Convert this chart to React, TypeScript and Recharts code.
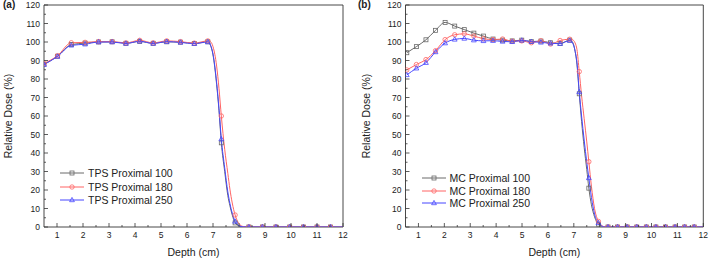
import { LineChart, Line, XAxis, YAxis, ReferenceArea } from "recharts";

// depth grid (cm) for the TPS panel; markers only sit on some of these
const tpsDepth = [
  0.5, 1.02, 1.55, 2.08, 2.6, 3.12, 3.65, 4.18, 4.7, 5.22, 5.75, 6.28, 6.8,
  6.9, 7.0, 7.14, 7.23, 7.32, 7.45, 7.57, 7.65, 7.74, 7.85, 8.0, 8.15, 8.38,
  8.9, 9.42, 9.95, 10.48, 11.0, 11.52, 12,
];
const tpsMarkers = [
  0.5, 1.02, 1.55, 2.08, 2.6, 3.12, 3.65, 4.18, 4.7, 5.22, 5.75, 6.28, 6.8,
  7.32, 7.85, 8.38, 8.9, 9.42, 9.95, 10.48, 11.0, 11.52,
];
const tps100 = [
  88, 92.3, 98.6, 99.4, 100, 100.1, 99.3, 100.3, 99.3, 100.1, 99.9, 99.2, 100.1,
  98.3, 93, 77, 63, 45.5, 30, 17, 11.5, 6.5, 2.2, 0.6, 0.1, 0,
  0, 0, 0, 0, 0, 0, 0,
];
const tps180 = [
  88.4, 92.6, 99.6, 99.8, 100.2, 100.2, 99.5, 100.9, 99.5, 100.6, 100.2, 99.4, 100.6,
  100.2, 97.5, 87, 75, 60, 42, 29, 20.5, 13, 6.5, 1.8, 0.3, 0,
  0, 0, 0, 0, 0, 0, 0,
];
const tps250 = [
  87.8, 92.2, 98.2, 98.8, 100, 100, 99.2, 100.4, 99.2, 100.2, 99.8, 99.1, 100,
  98.5, 93.5, 78, 64, 47.5, 32, 19, 12.8, 7.5, 3, 0.8, 0.1, 0,
  0, 0, 0, 0, 0, 0, 0,
];

// depth grid (cm) for the MC panel
const mcDepth = [
  0.55, 0.92, 1.29, 1.66, 2.03, 2.4, 2.77, 3.14, 3.51, 3.88, 4.25, 4.62, 4.99,
  5.36, 5.73, 6.1, 6.47, 6.84, 6.95, 7.05, 7.12, 7.21, 7.3, 7.4, 7.5, 7.58,
  7.68, 7.8, 7.95, 8.1, 8.2, 8.32, 8.69, 9.06, 9.43, 9.8, 10.17, 10.54, 10.91,
  11.28, 11.65, 12,
];
const mcMarkers = [
  0.55, 0.92, 1.29, 1.66, 2.03, 2.4, 2.77, 3.14, 3.51, 3.88, 4.25, 4.62, 4.99,
  5.36, 5.73, 6.1, 6.47, 6.84, 7.21, 7.58, 7.95, 8.32, 8.69, 9.06, 9.43, 9.8,
  10.17, 10.54, 10.91, 11.28, 11.65,
];
const mc100 = [
  94.2, 97.5, 101.2, 106.3, 110.6, 108.6, 106.7, 104.8, 103.2, 101.6, 101, 100.6, 101,
  100.2, 100.5, 99.6, 99.2, 101, 100, 95, 88, 72, 57, 43, 31, 21,
  12, 5.5, 1.5, 0.3, 0, 0, 0, 0, 0, 0, 0, 0, 0,
  0, 0, 0,
];
const mc180 = [
  84.9, 87.8, 90.5, 95.3, 101.3, 103.9, 104.4, 103.2, 101.8, 101.3, 101.6, 100.4, 100.6,
  99.6, 100.7, 98.9, 100.8, 101.5, 101.2, 99.5, 96, 84, 71, 58.5, 46, 35.3,
  22, 10, 3, 0.6, 0.1, 0, 0, 0, 0, 0, 0, 0, 0,
  0, 0, 0,
];
const mc250 = [
  82.2, 85.8, 88.8, 94.6, 99.4, 101.4, 101.9, 101, 100.6, 100.7, 100.3, 100.1, 100.9,
  100.2, 99.8, 99.3, 99.1, 100.8, 99.5, 95, 89, 73, 60, 47, 35, 26.5,
  16, 7, 2.2, 0.4, 0, 0, 0, 0, 0, 0, 0, 0, 0,
  0, 0, 0,
];

const xTicks = [1, 1.5, 2, 2.5, 3, 3.5, 4, 4.5, 5, 5.5, 6, 6.5, 7, 7.5, 8, 8.5, 9, 9.5, 10, 10.5, 11, 11.5, 12];
const yTicks = [0, 5, 10, 15, 20, 25, 30, 35, 40, 45, 50, 55, 60, 65, 70, 75, 80, 85, 90, 95, 100, 105, 110, 115, 120];

const tpsNames = ["TPS Proximal 100", "TPS Proximal 180", "TPS Proximal 250"];
const mcNames = ["MC Proximal 100", "MC Proximal 180", "MC Proximal 250"];

const colors = ["#6a6a6a", "#ff6464", "#4646ff"];
const shapes = ["square", "circle", "triangle"] as const;
const font = "'Liberation Sans', Arial, sans-serif";
const axisColor = "#333";
const textColor = "#222";

type Shape = (typeof shapes)[number];

function Marker({ shape, cx, cy, color }: { shape: Shape; cx: number; cy: number; color: string }) {
  if (shape === "square") {
    return <rect x={cx - 2} y={cy - 2} width={4} height={4} fill="none" stroke={color} strokeWidth={0.8} />;
  }
  if (shape === "circle") {
    return <circle cx={cx} cy={cy} r={2.2} fill="none" stroke={color} strokeWidth={0.8} />;
  }
  return (
    <path
      d={`M${cx},${cy - 2.6}L${cx + 2.4},${cy + 1.7}L${cx - 2.4},${cy + 1.7}Z`}
      fill="none"
      stroke={color}
      strokeWidth={0.8}
    />
  );
}

function makeDot(markers: number[], shape: Shape, color: string) {
  const set = new Set(markers);
  return (props: any) => {
    const { cx, cy, payload, index } = props;
    if (!set.has(payload.d) || cx == null || cy == null) return <g key={`n${index}`} />;
    return (
      <g key={`m${index}`}>
        <Marker shape={shape} cx={cx} cy={cy} color={color} />
      </g>
    );
  };
}

function XTick({ x, y, payload }: any) {
  const v = payload.value;
  const major = Number.isInteger(v);
  return (
    <g>
      <line x1={x} x2={x} y1={y} y2={y - (major ? 4 : 2)} stroke={axisColor} strokeWidth={0.8} />
      {major ? (
        <text x={x} y={y + 11} textAnchor="middle" fontSize={8.5} fontFamily={font} fill={textColor}>
          {v}
        </text>
      ) : null}
    </g>
  );
}

function YTick({ x, y, payload }: any) {
  const v = payload.value;
  const major = v % 10 === 0;
  return (
    <g>
      <line x1={x} x2={x + (major ? 4 : 2)} y1={y} y2={y} stroke={axisColor} strokeWidth={0.8} />
      {major ? (
        <text x={x - 4} y={y + 3} textAnchor="end" fontSize={8.5} fontFamily={font} fill={textColor}>
          {v}
        </text>
      ) : null}
    </g>
  );
}

interface PanelProps {
  left: number;
  width: number;
  plotLeft: number;
  plotRight: number;
  tag: string;
  titleX: number;
  depth: number[];
  series: number[][];
  markers: number[];
  names: string[];
  legendX: number;
  legendY: number[];
}

function Panel({ left, width, plotLeft, plotRight, tag, titleX, depth, series, markers, names, legendX, legendY }: PanelProps) {
  const rows = depth.map((d, i) => ({ d, s0: series[0][i], s1: series[1][i], s2: series[2][i] }));
  const plotCenter = (plotLeft + plotRight) / 2;
  return (
    <div style={{ position: "absolute", left, top: 0, width, height: 259 }}>
      <LineChart width={width} height={259} data={rows} margin={{ top: 5, right: width - plotRight, bottom: 0, left: 0 }}>
        <XAxis
          dataKey="d"
          type="number"
          domain={[0.5, 12]}
          ticks={xTicks}
          interval={0}
          height={32}
          tickSize={0}
          tickMargin={0}
          axisLine={false}
          tickLine={false}
          tick={<XTick />}
          allowDataOverflow
        />
        <YAxis
          type="number"
          domain={[0, 120]}
          ticks={yTicks}
          interval={0}
          width={plotLeft}
          tickSize={0}
          tickMargin={0}
          axisLine={false}
          tickLine={false}
          tick={<YTick />}
          allowDataOverflow
        />
        <ReferenceArea x1={0.5} x2={12} y1={0} y2={120} fill="none" stroke={axisColor} strokeWidth={0.9} />
        {["s0", "s1", "s2"].map((key, i) => (
          <Line
            key={key}
            dataKey={key}
            type="monotone"
            stroke={colors[i]}
            strokeWidth={1}
            dot={makeDot(markers, shapes[i], colors[i])}
            activeDot={false}
            isAnimationActive={false}
          />
        ))}
      </LineChart>
      <div
        style={{
          position: "absolute",
          left: 3,
          top: -1,
          fontSize: 10,
          fontWeight: "bold",
          fontFamily: font,
          color: textColor,
        }}
      >
        {tag}
      </div>
      <div
        style={{
          position: "absolute",
          left: titleX,
          top: 116,
          transform: "translate(-50%, -50%) rotate(-90deg)",
          whiteSpace: "nowrap",
          fontSize: 10.5,
          fontFamily: font,
          color: textColor,
        }}
      >
        Relative Dose (%)
      </div>
      <div
        style={{
          position: "absolute",
          left: plotCenter,
          top: 252,
          transform: "translate(-50%, -50%)",
          whiteSpace: "nowrap",
          fontSize: 10.5,
          fontFamily: font,
          color: textColor,
        }}
      >
        Depth (cm)
      </div>
      {names.map((name, i) => (
        <div
          key={name}
          style={{
            position: "absolute",
            left: legendX,
            top: legendY[i] - 7,
            height: 14,
            display: "flex",
            alignItems: "center",
            whiteSpace: "nowrap",
            fontSize: 10.5,
            fontFamily: font,
            color: textColor,
          }}
        >
          <svg width={24} height={14} style={{ marginRight: 4 }}>
            <line x1={0} x2={24} y1={7} y2={7} stroke={colors[i]} strokeWidth={1} />
            <Marker shape={shapes[i]} cx={12} cy={7} color={colors[i]} />
          </svg>
          {name}
        </div>
      ))}
    </div>
  );
}

export default function App() {
  return (
    <div style={{ position: "absolute", left: 0, top: 0, width: 709, height: 259, background: "#fff" }}>
      <Panel
        left={0}
        width={355}
        plotLeft={44}
        plotRight={343}
        tag="(a)"
        titleX={8}
        depth={tpsDepth}
        series={[tps100, tps180, tps250]}
        markers={tpsMarkers}
        names={tpsNames}
        legendX={60}
        legendY={[173, 187, 200]}
      />
      <Panel
        left={355}
        width={354}
        plotLeft={50.5}
        plotRight={348.3}
        tag="(b)"
        titleX={11}
        depth={mcDepth}
        series={[mc100, mc180, mc250]}
        markers={mcMarkers}
        names={mcNames}
        legendX={66.5}
        legendY={[178, 191, 203]}
      />
    </div>
  );
}
